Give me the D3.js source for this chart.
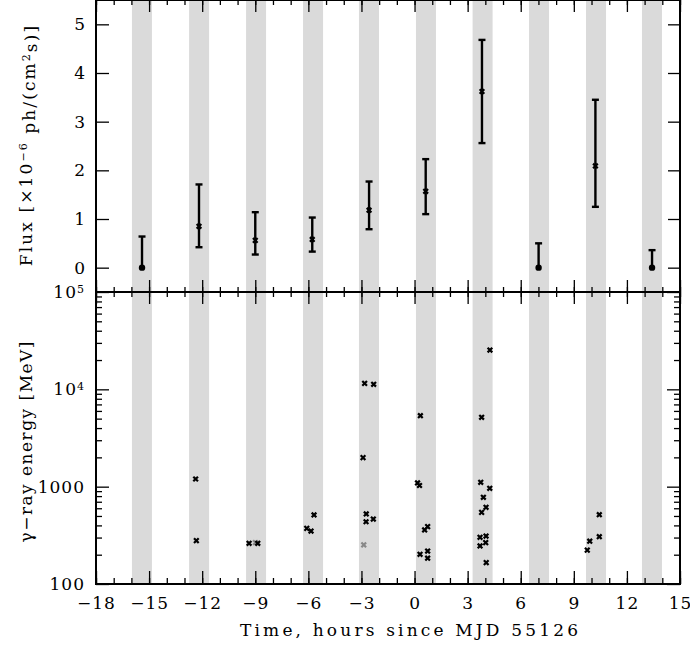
<!DOCTYPE html>
<html>
<head>
<meta charset="utf-8">
<script src="https://cdn.jsdelivr.net/npm/d3@7"></script>
<style>
  body { margin: 0; background: #fff; }
  svg text { font-family: "DejaVu Serif", "Liberation Serif", serif; fill: #000; }
</style>
</head>
<body>
<svg id="chart" width="690" height="648"></svg>
<script>
// gray bands (hours since MJD 55126)
var bandStart = [-15.97, -12.74, -9.52, -6.30, -3.14, 0.08, 3.28, 6.47, 9.69, 12.85];
var bandEnd   = [-14.84, -11.61, -8.39, -5.17, -2.01, 1.21, 4.41, 7.60, 10.82, 13.98];

// flux points with error bars
var fluxTime = [-12.18, -9.0, -5.78, -2.57, 0.63, 3.81, 10.22];
var fluxVal  = [0.85, 0.56, 0.58, 1.18, 1.57, 3.62, 2.09];
var fluxLo   = [0.42, 0.27, 0.33, 0.79, 1.10, 2.56, 1.25];
var fluxHi   = [1.71, 1.14, 1.03, 1.77, 2.23, 4.68, 3.45];

// upper limits
var ulTime = [-15.4, 7.01, 13.42];
var ulVal  = [0.64, 0.50, 0.36];

// photon events
var photonTime = [-12.37, -12.33, -9.35, -8.86, -6.09, -5.85, -5.68,
  -2.82, -2.31, -2.91, -2.73, -2.74, -2.33,
  0.33, 0.17, 0.28, 0.57, 0.74, 0.31, 0.74, 0.74,
  4.26, 3.79, 3.74, 4.25, 3.89, 4.04, 3.79, 3.70, 4.04, 3.70, 4.02, 4.05,
  9.76, 9.90, 10.44, 10.44];
var photonEnergy = [1199, 279, 262, 262, 373, 350, 512,
  11530, 11270, 1985, 524, 436, 465,
  5360, 1091, 1028, 359, 388, 202, 218, 184,
  25350, 5160, 1109, 962, 778, 614, 545, 302, 311, 246, 266, 166,
  223, 275, 515, 306];
var grayTime   = [-8.99, -2.87];
var grayEnergy = [266, 252];

// ticks
var xMinor = d3.range(-18, 16, 1);
var xMajor = d3.range(-18, 16, 3);
var fluxTicks = [0, 1, 2, 3, 4, 5];
var eMajor = [100, 1000, 1e4, 1e5];
var eMinor = [200, 300, 400, 500, 600, 700, 800, 900,
  2000, 3000, 4000, 5000, 6000, 7000, 8000, 9000,
  20000, 30000, 40000, 50000, 60000, 70000, 80000, 90000];

var plotL = 96, plotR = 680, plotT = 0, plotM = 292, plotB = 584;

var svg = d3.select("#chart");

var x = d3.scaleLinear().domain([-18, 15]).range([plotL, plotR]);
var yF = d3.scaleLinear().domain([-0.5, 5.5]).range([plotM, plotT]);
var yE = d3.scaleLog().domain([100, 1e5]).range([plotB, plotM]);

// bands
svg.append("g").selectAll("rect")
  .data(d3.range(bandStart.length))
  .enter().append("rect")
  .attr("x", function(i) { return x(bandStart[i]); })
  .attr("width", function(i) { return x(bandEnd[i]) - x(bandStart[i]); })
  .attr("y", plotT)
  .attr("height", plotB - plotT)
  .attr("fill", "#dadada");

// helper for tick-only axes
function ticksOnly(axis, tx, ty) {
  var g = svg.append("g")
    .attr("transform", "translate(" + tx + "," + ty + ")")
    .call(axis);
  g.select(".domain").remove();
  g.selectAll("line").attr("stroke", "#000").attr("stroke-width", 1.3);
  g.selectAll("text").remove();
  return g;
}

// x ticks: top, middle (both sides), bottom
ticksOnly(d3.axisBottom(x).tickValues(xMinor).tickSize(5), 0, plotT);
ticksOnly(d3.axisBottom(x).tickValues(xMajor).tickSize(12), 0, plotT);
ticksOnly(d3.axisTop(x).tickValues(xMinor).tickSize(5), 0, plotM);
ticksOnly(d3.axisTop(x).tickValues(xMajor).tickSize(12), 0, plotM);
ticksOnly(d3.axisBottom(x).tickValues(xMinor).tickSize(5), 0, plotM);
ticksOnly(d3.axisBottom(x).tickValues(xMajor).tickSize(12), 0, plotM);
ticksOnly(d3.axisTop(x).tickValues(xMinor).tickSize(6), 0, plotB);
ticksOnly(d3.axisTop(x).tickValues(xMajor).tickSize(13), 0, plotB);

// y ticks top panel
ticksOnly(d3.axisRight(yF).tickValues(fluxTicks).tickSize(13), plotL, 0);
ticksOnly(d3.axisLeft(yF).tickValues(fluxTicks).tickSize(12), plotR, 0);

// y ticks bottom panel (log)
ticksOnly(d3.axisRight(yE).tickValues(eMinor).tickSize(6), plotL, 0);
ticksOnly(d3.axisRight(yE).tickValues(eMajor).tickSize(13), plotL, 0);
ticksOnly(d3.axisLeft(yE).tickValues(eMinor).tickSize(6), plotR, 0);
ticksOnly(d3.axisLeft(yE).tickValues(eMajor).tickSize(13), plotR, 0);

// tick labels
var xLab = svg.append("g")
  .attr("transform", "translate(0," + plotB + ")")
  .call(d3.axisBottom(x).tickValues(xMajor).tickSize(0).tickPadding(13));
xLab.select(".domain").remove();
xLab.selectAll("text").attr("font-size", 17).attr("font-family", "DejaVu Serif").attr("letter-spacing", 1);

var yFLab = svg.append("g")
  .attr("transform", "translate(" + plotL + ",0)")
  .call(d3.axisLeft(yF).tickValues(fluxTicks).tickSize(0).tickPadding(11).tickFormat(d3.format("d")));
yFLab.select(".domain").remove();
yFLab.selectAll("text").attr("font-size", 17).attr("font-family", "DejaVu Serif");

var yELab = svg.append("g")
  .attr("transform", "translate(" + plotL + ",0)")
  .call(d3.axisLeft(yE).tickValues(eMajor).tickSize(0).tickPadding(11).tickFormat(function(d) {
    return d < 1e4 ? String(d) : "10";
  }));
yELab.select(".domain").remove();
yELab.selectAll("text").attr("font-size", 17).attr("font-family", "DejaVu Serif").attr("letter-spacing", 1)
  .each(function(d) {
    if (d >= 1e4) {
      d3.select(this).append("tspan")
        .attr("dy", "-0.45em")
        .attr("font-size", 11)
        .text(Math.round(Math.log10(d)));
    }
  });

// frame
svg.append("rect")
  .attr("x", plotL).attr("y", plotT)
  .attr("width", plotR - plotL).attr("height", plotB - plotT)
  .attr("fill", "none").attr("stroke", "#000").attr("stroke-width", 2);
svg.append("line")
  .attr("x1", plotL).attr("x2", plotR)
  .attr("y1", plotM).attr("y2", plotM)
  .attr("stroke", "#000").attr("stroke-width", 2.2);

// error bars
var cap = 3.5;
var eb = svg.append("g").attr("stroke", "#000").attr("stroke-width", 2.4);
fluxTime.forEach(function(t, i) {
  eb.append("line").attr("x1", x(t)).attr("x2", x(t)).attr("y1", yF(fluxLo[i])).attr("y2", yF(fluxHi[i]));
  eb.append("line").attr("x1", x(t) - cap).attr("x2", x(t) + cap).attr("y1", yF(fluxLo[i])).attr("y2", yF(fluxLo[i]));
  eb.append("line").attr("x1", x(t) - cap).attr("x2", x(t) + cap).attr("y1", yF(fluxHi[i])).attr("y2", yF(fluxHi[i]));
});
ulTime.forEach(function(t, i) {
  eb.append("line").attr("x1", x(t)).attr("x2", x(t)).attr("y1", yF(0)).attr("y2", yF(ulVal[i]));
  eb.append("line").attr("x1", x(t) - cap).attr("x2", x(t) + cap).attr("y1", yF(ulVal[i])).attr("y2", yF(ulVal[i]));
});

var cross = d3.symbol(d3.symbolX).size(16);

svg.append("g").selectAll("path")
  .data(fluxTime)
  .enter().append("path")
  .attr("d", cross)
  .attr("transform", function(t, i) { return "translate(" + x(t) + "," + yF(fluxVal[i]) + ")"; })
  .attr("fill", "none").attr("stroke", "#000").attr("stroke-width", 2.2);

svg.append("g").selectAll("circle")
  .data(ulTime)
  .enter().append("circle")
  .attr("cx", function(t) { return x(t); })
  .attr("cy", yF(0))
  .attr("r", 3.2)
  .attr("fill", "#000");

// photons
svg.append("g").selectAll("path")
  .data(grayTime)
  .enter().append("path")
  .attr("d", cross)
  .attr("transform", function(t, i) { return "translate(" + x(t) + "," + yE(grayEnergy[i]) + ")"; })
  .attr("fill", "none").attr("stroke", "#888").attr("stroke-width", 2.2);

svg.append("g").selectAll("path")
  .data(photonTime)
  .enter().append("path")
  .attr("d", cross)
  .attr("transform", function(t, i) { return "translate(" + x(t) + "," + yE(photonEnergy[i]) + ")"; })
  .attr("fill", "none").attr("stroke", "#000").attr("stroke-width", 2.2);

// axis titles
svg.append("text")
  .attr("x", (240 + 578) / 2).attr("y", 636)
  .attr("text-anchor", "middle")
  .attr("font-size", 17)
  .attr("textLength", 338).attr("lengthAdjust", "spacing")
  .text("Time, hours since MJD 55126");

var t1 = svg.append("text")
  .attr("transform", "translate(32,145) rotate(-90)")
  .attr("text-anchor", "middle")
  .attr("font-size", 17)
  .attr("letter-spacing", 2.1);
t1.append("tspan").text("Flux [×10");
t1.append("tspan").attr("dy", "-0.45em").attr("font-size", 11).text("−6");
t1.append("tspan").attr("dy", "0.45em").text(" ph/(cm");
t1.append("tspan").attr("dy", "-0.45em").attr("font-size", 11).text("2");
t1.append("tspan").attr("dy", "0.45em").text("s)]");

svg.append("text")
  .attr("transform", "translate(32,442) rotate(-90)")
  .attr("text-anchor", "middle")
  .attr("font-size", 17)
  .attr("textLength", 201).attr("lengthAdjust", "spacing")
  .text("γ−ray energy [MeV]");
</script>
</body>
</html>
